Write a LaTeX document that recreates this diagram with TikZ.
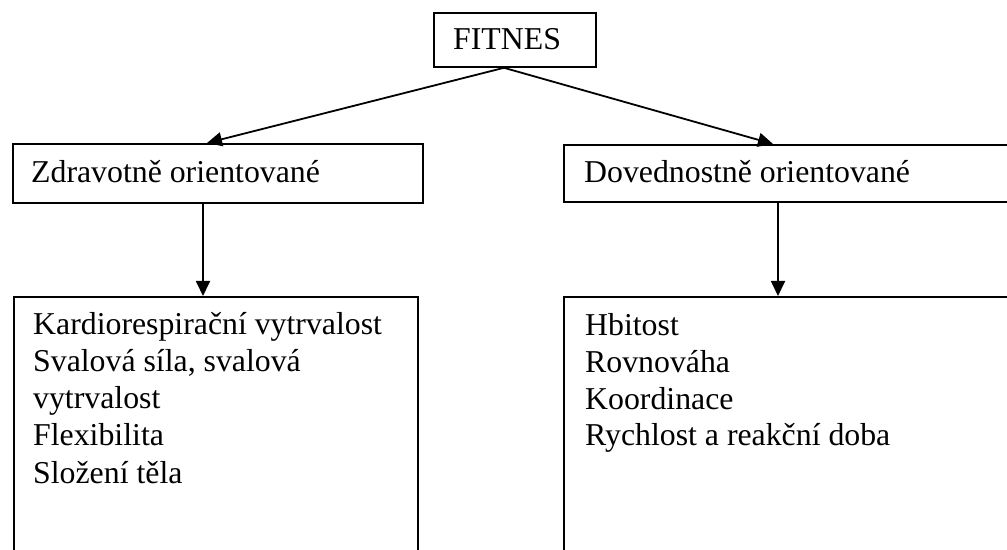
\documentclass[tikz,border=0pt]{standalone}
\usepackage{fontspec}
\setmainfont{Liberation Serif}
\usetikzlibrary{arrows.meta}
\begin{document}
\begin{tikzpicture}[x=1bp,y=1bp,
  box/.style={draw, line width=1.8bp, inner sep=0pt, anchor=north west},
  txt/.style={inner sep=0pt, anchor=base west, font=\fontsize{31.8bp}{37bp}\selectfont},
  arr/.style={line width=1.8bp, -{Triangle[length=15bp,width=14bp]}}]
\useasboundingbox (0,0) rectangle (1007,-550);
\clip (0,0) rectangle (1007,-550);
% boxes
\node[box, minimum width=162bp, minimum height=54bp] (fit) at (433,-12) {};
\node[box, minimum width=410bp, minimum height=59bp] (zd) at (12,-143) {};
\node[box, minimum width=460bp, minimum height=57bp] (dv) at (563,-144) {};
\node[box, minimum width=404bp, minimum height=300bp] (kl) at (13,-296) {};
\node[box, minimum width=460bp, minimum height=300bp] (kr) at (563,-296) {};
% texts
\node[txt] (tfit) at (453,-50) {FITNES};
\node[txt] (tzd) at (31,-183) {Zdravotně orientované};
\node[txt] (tdv) at (584,-183) {Dovednostně orientované};
\node[txt] (l1) at (33,-335) {Kardiorespirační vytrvalost};
\node[txt] (l2) at (33,-372) {Svalová síla, svalová};
\node[txt] (l3) at (33,-408) {vytrvalost};
\node[txt] (l4) at (33,-445) {Flexibilita};
\node[txt] (l5) at (33,-483) {Složení těla};
\node[txt] (r1) at (585,-336) {Hbitost};
\node[txt] (r2) at (585,-373) {Rovnováha};
\node[txt] (r3) at (585,-409) {Koordinace};
\node[txt] (r4) at (585,-445) {Rychlost a reakční doba};
% connectors
\draw[arr] ([xshift=71bp]fit.south west) -- ([xshift=195bp]zd.north west);
\draw[arr] ([xshift=71bp]fit.south west) -- ([xshift=210bp]dv.north west);
\draw[arr] ([xshift=191bp]zd.south west) -- ([xshift=190bp]kl.north west);
\draw[arr] ([xshift=215bp]dv.south west) -- ([xshift=215bp]kr.north west);
\end{tikzpicture}
\end{document}
